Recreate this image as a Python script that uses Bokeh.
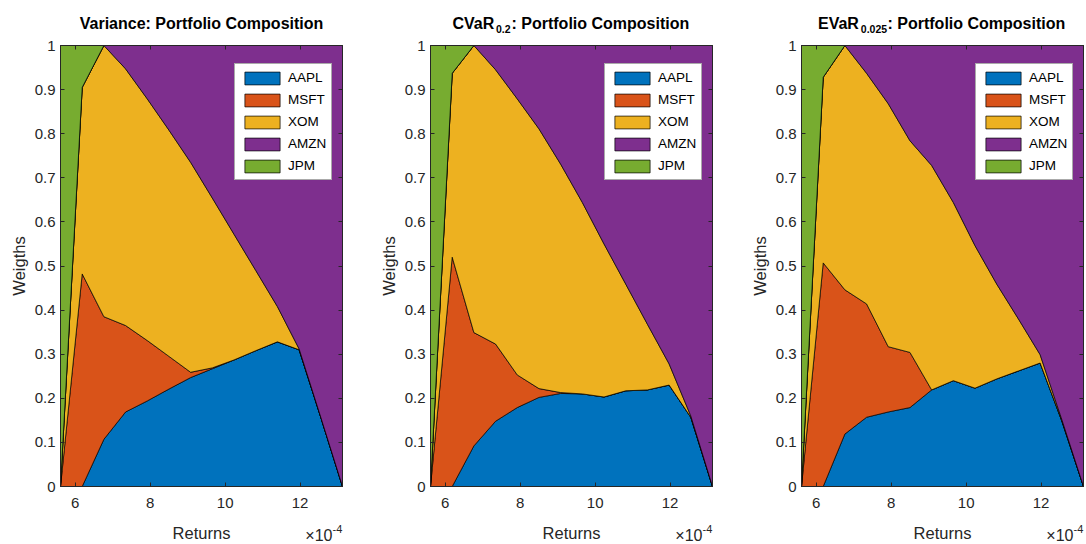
import numpy as np
from bokeh.plotting import figure
from bokeh.layouts import row, column
from bokeh.models import (Range1d, FixedTicker, CustomJSTickFormatter, LinearAxis, Label)
from bokeh.embed import file_html
from bokeh.resources import INLINE

FONT = "Liberation Sans"
AX = "#262626"

assets = ["AAPL", "MSFT", "XOM", "AMZN", "JPM"]
colors = ["#0072BD", "#D95319", "#EDB120", "#7E2F8E", "#77AC30"]

returns = [5.609e-4, 6.188e-4, 6.766e-4, 7.345e-4, 7.923e-4, 8.502e-4, 9.080e-4,
           9.659e-4, 10.237e-4, 10.816e-4, 11.394e-4, 11.973e-4, 12.551e-4, 13.130e-4]

x_ticks = [6e-4, 8e-4, 10e-4, 12e-4]
x_tick_labels = ["6", "8", "10", "12"]
y_ticks = [0, 0.1, 0.2, 0.3, 0.4, 0.5, 0.6, 0.7, 0.8, 0.9, 1.0]
y_tick_labels = ["0", "0.1", "0.2", "0.3", "0.4", "0.5", "0.6", "0.7", "0.8", "0.9", "1"]

# Variance
var_AAPL = [0, 0, 0.107, 0.169, 0.194, 0.221, 0.247, 0.267, 0.287, 0.308, 0.328, 0.310, 0.157, 0]
var_MSFT = [0, 0.482, 0.278, 0.196, 0.137, 0.074, 0.012, 0.002, 0, 0, 0, 0, 0, 0]
var_XOM = [0, 0.423, 0.615, 0.582, 0.548, 0.513, 0.476, 0.385, 0.285, 0.182, 0.080, 0.002, 0, 0]
var_AMZN = [0, 0, 0, 0.053, 0.121, 0.192, 0.265, 0.346, 0.428, 0.510, 0.592, 0.688, 0.843, 1.0]
var_JPM = [1.0, 0.095, 0, 0, 0, 0, 0, 0, 0, 0, 0, 0, 0, 0]

# CVaR 0.2
cvar_AAPL = [0, 0, 0.092, 0.148, 0.179, 0.202, 0.211, 0.210, 0.203, 0.217, 0.219, 0.230, 0.157, 0]
cvar_MSFT = [0, 0.520, 0.257, 0.175, 0.074, 0.020, 0.002, 0, 0, 0, 0, 0, 0, 0]
cvar_XOM = [0, 0.417, 0.651, 0.622, 0.626, 0.589, 0.518, 0.434, 0.347, 0.242, 0.149, 0.048, 0.003, 0]
cvar_AMZN = [0, 0, 0, 0.055, 0.121, 0.189, 0.269, 0.356, 0.450, 0.541, 0.632, 0.722, 0.840, 1.0]
cvar_JPM = [1.0, 0.063, 0, 0, 0, 0, 0, 0, 0, 0, 0, 0, 0, 0]

# EVaR 0.025
evar_AAPL = [0, 0, 0.119, 0.157, 0.169, 0.179, 0.219, 0.240, 0.223, 0.244, 0.262, 0.280, 0.149, 0]
evar_MSFT = [0, 0.507, 0.327, 0.257, 0.148, 0.125, 0, 0, 0, 0, 0, 0, 0, 0]
evar_XOM = [0, 0.421, 0.554, 0.523, 0.551, 0.480, 0.509, 0.404, 0.323, 0.215, 0.118, 0.019, 0.003, 0]
evar_AMZN = [0, 0, 0, 0.063, 0.132, 0.216, 0.272, 0.356, 0.454, 0.541, 0.620, 0.701, 0.848, 1.0]
evar_JPM = [1.0, 0.072, 0, 0, 0, 0, 0, 0, 0, 0, 0, 0, 0, 0]

panel_weights = [
    [var_AAPL, var_MSFT, var_XOM, var_AMZN, var_JPM],
    [cvar_AAPL, cvar_MSFT, cvar_XOM, cvar_AMZN, cvar_JPM],
    [evar_AAPL, evar_MSFT, evar_XOM, evar_AMZN, evar_JPM],
]
borders = [(60, 20), (68, 12), (77, 3)]

TOTAL_W = 1086
TOP_H = 35          # title strip
BOT_H = 28          # x-label strip
W = 362
MAIN_H = 544 - TOP_H - BOT_H
BT, BB = 10, 30
BASE_FIX = 0.34     # baseline correction factor (fraction of font size)


def style_axis(ax):
    ax.axis_line_color = AX
    ax.axis_line_width = 1
    ax.major_tick_line_color = AX
    ax.major_tick_in = 4
    ax.major_tick_out = 0
    ax.minor_tick_line_color = None
    ax.major_label_text_font = FONT
    ax.major_label_text_font_size = "15px"
    ax.major_label_text_color = AX
    ax.axis_label_text_font = FONT
    ax.axis_label_text_font_size = "16.5px"
    ax.axis_label_text_font_style = "normal"
    ax.axis_label_text_color = AX


def strip(height):
    f = figure(width=TOTAL_W, height=height, output_backend="svg", toolbar_location=None,
               x_range=Range1d(0, TOTAL_W), y_range=Range1d(0, height),
               x_axis_type=None, y_axis_type=None,
               min_border_left=0, min_border_right=0, min_border_top=0, min_border_bottom=0)
    f.grid.visible = False
    f.outline_line_color = None
    f.background_fill_color = "white"
    f.border_fill_color = "white"
    return f


def add_text(fig, strip_h, canvas_top, x, baseline_y, txt, size, bold=False, align="left",
             color="black"):
    y = strip_h - (baseline_y - canvas_top) + BASE_FIX * size
    fig.add_layout(Label(x=x, y=y, text=txt, text_font=FONT, text_font_size=f"{size}px",
                         text_font_style="bold" if bold else "normal", text_color=color,
                         text_baseline="alphabetic", text_align=align))


figs = []
for weights, (bl, br) in zip(panel_weights, borders):
    p = figure(width=W, height=MAIN_H, output_backend="svg", toolbar_location=None,
               x_range=Range1d(returns[0], returns[-1]), y_range=Range1d(0, 1),
               min_border_left=bl, min_border_right=br,
               min_border_top=BT, min_border_bottom=BB)
    p.grid.visible = False
    p.outline_line_color = AX
    p.background_fill_color = "white"
    p.border_fill_color = "white"

    x = np.array(returns)
    lower = np.zeros(len(returns))
    for name, col, w in zip(assets, colors, weights):
        upper = lower + np.array(w)
        xs = np.concatenate([x, x[::-1]])
        ys = np.concatenate([upper, lower[::-1]])
        p.patch(x=xs, y=ys, fill_color=col, line_color="black", line_width=0.7,
                legend_label=name)
        lower = upper

    xa = p.xaxis[0]
    xa.ticker = FixedTicker(ticks=x_ticks)
    xa.formatter = CustomJSTickFormatter(args=dict(labels=x_tick_labels),
                                         code="return labels[index];")
    style_axis(xa)
    xa.major_label_standoff = 11

    ya = p.yaxis[0]
    ya.ticker = FixedTicker(ticks=y_ticks)
    ya.formatter = CustomJSTickFormatter(args=dict(labels=y_tick_labels),
                                         code="return labels[index];")
    ya.axis_label = "Weigths"
    style_axis(ya)
    ya.major_label_standoff = 5
    ya.axis_label_standoff = 4

    for loc, tk in (("right", y_ticks), ("above", x_ticks)):
        ax = LinearAxis(ticker=FixedTicker(ticks=tk),
                        formatter=CustomJSTickFormatter(code="return '';"))
        style_axis(ax)
        ax.major_label_text_font_size = "0px"
        ax.major_label_standoff = 0
        p.add_layout(ax, loc)

    leg = p.legend[0]
    leg.location = (174, 306)
    leg.label_text_font = FONT
    leg.label_text_font_size = "13.5px"
    leg.label_text_color = "black"
    leg.glyph_width = 44
    leg.glyph_height = 16
    leg.label_height = 17
    leg.label_standoff = 4
    leg.spacing = 5
    leg.padding = 5
    leg.margin = 0
    leg.border_line_color = "#555555"
    leg.border_line_width = 0.8
    leg.background_fill_color = "white"
    leg.background_fill_alpha = 1.0
    figs.append(p)

# ---- title strip (canvas rows 0..TOP_H) ----
top = strip(TOP_H)
title_pieces = [
    ("Variance: Portfolio Composition", 201, "center"),
    ("CVaR", 452, "main"), ("0.2", 495.5, "sub"), (": Portfolio Composition", 511, "main"),
    ("EVaR", 817.5, "main"), ("0.025", 860.3, "sub"), (": Portfolio Composition", 887, "main"),
]
for txt, xp, kind in title_pieces:
    if kind == "sub":
        add_text(top, TOP_H, 0, xp, 32.3, txt, 10.5, bold=True)
    else:
        add_text(top, TOP_H, 0, xp, 28.5, txt, 16, bold=True,
                 align="center" if kind == "center" else "left")

# ---- x label strip (canvas rows 516..544) ----
bot = strip(BOT_H)
BOT_TOP = 544 - BOT_H
frame_centers = [201, 571, 942]
frame_rights = [342, 712, 1083]
for cx, rx in zip(frame_centers, frame_rights):
    add_text(bot, BOT_H, BOT_TOP, cx, 538, "Returns", 16.5, align="center", color=AX)
    add_text(bot, BOT_H, BOT_TOP, rx - 10, 540, "×10", 16, align="right", color=AX)
    add_text(bot, BOT_H, BOT_TOP, rx - 10, 532, "-4", 11, align="left", color=AX)

layout = column(top, row(*figs), bot)
open("out.html", "w").write(file_html(layout, INLINE))
